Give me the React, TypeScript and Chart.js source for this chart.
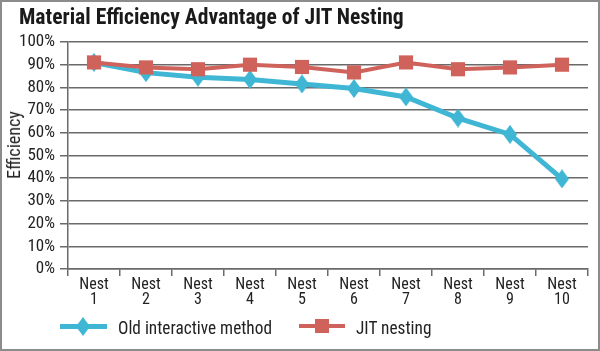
import React, { useEffect, useRef } from "react";
import { Chart, registerables } from "chart.js";

Chart.register(...registerables);

const categories: string[][] = [
  ["Nest", "1"], ["Nest", "2"], ["Nest", "3"], ["Nest", "4"], ["Nest", "5"],
  ["Nest", "6"], ["Nest", "7"], ["Nest", "8"], ["Nest", "9"], ["Nest", "10"],
];
const oldMethod: number[] = [91, 86.5, 84.5, 83.5, 81.5, 79.5, 75.8, 66.5, 59.3, 39.7];
const jitNesting: number[] = [91, 88.8, 88, 90, 89, 86.6, 91, 88, 88.8, 90];
const seriesNames: string[] = ["Old interactive method", "JIT nesting"];
const titleText = "Material Efficiency Advantage of JIT Nesting";
const yTitle = "Efficiency";

const BLUE = "#3fb6d4";
const RED = "#d0625c";
const GRID = "#6a6a6a";
const TEXT = "#222222";
const COND = "'Roboto Condensed', 'Liberation Sans Narrow', sans-serif";

function makeDiamond(w: number, h: number, color: string): HTMLCanvasElement {
  const c = document.createElement("canvas");
  c.width = w;
  c.height = h;
  const ctx = c.getContext("2d")!;
  ctx.fillStyle = color;
  ctx.beginPath();
  ctx.moveTo(w / 2, 0);
  ctx.lineTo(w, h / 2);
  ctx.lineTo(w / 2, h);
  ctx.lineTo(0, h / 2);
  ctx.closePath();
  ctx.fill();
  return c;
}

export default function App() {
  const ref = useRef<HTMLCanvasElement | null>(null);

  useEffect(() => {
    if (!ref.current) return;
    const diamond = makeDiamond(14, 19, BLUE);
    const chart = new Chart(ref.current, {
      type: "line",
      data: {
        labels: categories,
        datasets: [
          {
            label: seriesNames[0],
            data: oldMethod,
            borderColor: BLUE,
            backgroundColor: BLUE,
            borderWidth: 5,
            pointStyle: diamond as any,
            tension: 0,
            order: 1,
          },
          {
            label: seriesNames[1],
            data: jitNesting,
            borderColor: RED,
            backgroundColor: RED,
            borderWidth: 4,
            pointStyle: "rect",
            pointRadius: 10,
            pointBorderWidth: 0,
            pointBackgroundColor: RED,
            tension: 0,
            order: 0,
          },
        ],
      },
      options: {
        responsive: false,
        animation: false,
        layout: { padding: { top: 40, right: 7, left: 0, bottom: 0 } },
        plugins: {
          legend: { display: false },
          title: { display: false },
          tooltip: { enabled: false },
        },
        scales: {
          x: {
            type: "category",
            offset: true,
            grid: {
              offset: true,
              drawOnChartArea: false,
              drawTicks: true,
              tickLength: 7,
              color: GRID,
              lineWidth: 1.5,
            },
            border: { display: true, color: GRID, width: 1.5 },
            ticks: {
              color: TEXT,
              font: { family: COND, size: 16, lineHeight: 0.9 },
              padding: 2,
              maxRotation: 0,
              autoSkip: false,
            },
            afterFit: (s: any) => {
              s.height = 80;
            },
          },
          y: {
            min: 0,
            max: 100,
            grid: { color: GRID, lineWidth: 1.5, tickLength: 8 },
            border: { display: true, color: GRID, width: 1.5 },
            ticks: {
              stepSize: 10,
              autoSkip: false,
              color: TEXT,
              padding: 5,
              font: { family: COND, size: 17 },
              callback: (v: any) => v + "%",
            },
            afterFit: (s: any) => {
              s.width = 66;
            },
          },
        },
      },
    });
    return () => chart.destroy();
  }, []);

  const legendText: React.CSSProperties = {
    position: "absolute",
    top: 315,
    fontSize: 19,
    lineHeight: "22px",
    whiteSpace: "nowrap",
    transform: "scaleX(0.91)",
    transformOrigin: "left center",
  };

  return (
    <div
      style={{
        position: "absolute",
        left: 0,
        top: 0,
        width: 600,
        height: 351,
        boxSizing: "border-box",
        border: "2px solid #8c8c8c",
        background: "#fff",
        fontFamily: COND,
        color: TEXT,
        overflow: "hidden",
      }}
    >
      <canvas
        ref={ref}
        width={596}
        height={347}
        style={{ position: "absolute", left: 0, top: 0, width: 596, height: 347 }}
      />
      <div
        style={{
          position: "absolute",
          left: 17,
          top: 4,
          fontSize: 21.6,
          lineHeight: "22px",
          fontWeight: "bold",
          whiteSpace: "nowrap",
          color: "#1a1a1a",
        }}
      >
        {titleText}
      </div>
      <div
        style={{
          position: "absolute",
          left: 12,
          top: 143,
          transform: "translate(-50%, -50%) rotate(-90deg)",
          fontSize: 18,
          lineHeight: "18px",
          whiteSpace: "nowrap",
        }}
      >
        {yTitle}
      </div>
      {/* legend */}
      <div style={{ position: "absolute", left: 58, top: 322, width: 47, height: 5, background: BLUE }} />
      <div
        style={{
          position: "absolute",
          left: 74,
          top: 315,
          width: 14,
          height: 19,
          background: BLUE,
          clipPath: "polygon(50% 0, 100% 50%, 50% 100%, 0 50%)",
        }}
      />
      <div style={{ ...legendText, left: 116 }}>{seriesNames[0]}</div>
      <div style={{ position: "absolute", left: 297, top: 322, width: 46, height: 4, background: RED }} />
      <div style={{ position: "absolute", left: 313, top: 317, width: 14, height: 14, background: RED }} />
      <div style={{ ...legendText, left: 354 }}>{seriesNames[1]}</div>
    </div>
  );
}
